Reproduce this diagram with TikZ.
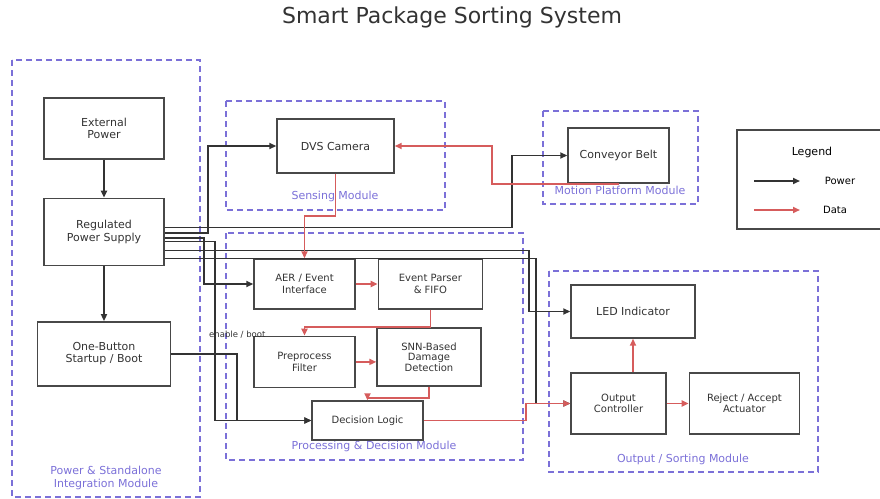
\documentclass[tikz,border=0pt]{standalone}
\usepackage{fontspec}
\setmainfont{DejaVu Sans}
\usetikzlibrary{arrows.meta, positioning}

\definecolor{boxgray}{HTML}{484848}
\definecolor{txtgray}{HTML}{333333}
\definecolor{pwrgray}{HTML}{333333}
\definecolor{datared}{HTML}{D65C5C}
\definecolor{modblue}{HTML}{7B70D8}

\begin{document}
\begin{tikzpicture}[
    x=1pt, y=1pt,
    font=\fontsize{11}{12.5}\selectfont,
    box/.style={rectangle, draw=boxgray, line width=1.4pt, fill=white, text=txtgray,
                align=center, inner sep=2pt},
    small/.style={font=\fontsize{10}{11.5}\selectfont},
    module/.style={draw=modblue, line width=1.3pt, dash pattern=on 6pt off 4pt},
    modlabel/.style={text=modblue, align=center, font=\fontsize{11}{13}\selectfont},
    power/.style={-{Triangle[length=7pt, width=6pt]}, line width=1.8pt, draw=pwrgray},
    data/.style={-{Triangle[length=7pt, width=6pt]}, line width=1.8pt, draw=datared}
]
\useasboundingbox (0,0) rectangle (880,-498);

\node[text=txtgray, font=\fontsize{22}{26}\selectfont] (title) at (452,-17) {Smart Package Sorting System};

% module frames
\draw[module] (12,-60) rectangle (200,-497);
\draw[module] (226,-101) rectangle (445,-210);
\draw[module] (543,-111) rectangle (698,-204);
\draw[module] (226,-233) rectangle (523,-460);
\draw[module] (549,-271) rectangle (818,-472);
\node[modlabel] (powlbl) at (106,-477.5) {Power \& Standalone\\Integration Module};
\node[modlabel] (senlbl) at (335,-196) {Sensing Module};
\node[modlabel] (motlbl) at (620,-190) {Motion Platform Module};
\node[modlabel] (proclbl) at (374,-446) {Processing \& Decision Module};
\node[modlabel] (outlbl) at (683,-459) {Output / Sorting Module};

% power module
\node[box, minimum width=120pt, minimum height=61pt] (ext) at (104,-128.5) {External\\Power};
\node[box, minimum width=120pt, minimum height=67pt, below=38pt of ext] (rps) {Regulated\\Power Supply};
\node[box, minimum width=133pt, minimum height=64pt, below=55pt of rps] (boot) {One-Button\\Startup / Boot};

% sensing and motion
\node[box, minimum width=117pt, minimum height=54pt] (dvs) at (335.5,-146) {DVS Camera};
\node[box, minimum width=101pt, minimum height=55pt] (conv) at (618.5,-155.5) {Conveyor Belt};

% processing
\node[box, small, minimum width=101pt, minimum height=50pt] (aer) at (304.5,-284) {AER / Event\\Interface};
\node[box, small, minimum width=104pt, minimum height=50pt, right=22pt of aer] (parser) {Event Parser\\\& FIFO};
\node[box, small, minimum width=101pt, minimum height=51pt, below=26pt of aer] (pre) {Preprocess\\Filter};
\node[box, font=\fontsize{10}{10.5}\selectfont, minimum width=104pt, minimum height=58pt] (snn) at (429,-357) {SNN-Based\\Damage\\Detection};
\node[box, small, minimum width=111pt, minimum height=39pt] (dec) at (367.5,-420.5) {Decision Logic};

% output
\node[box, minimum width=124pt, minimum height=53pt] (led) at (633,-311.5) {LED Indicator};
\node[box, small, minimum width=95pt, minimum height=61pt] (outc) at (618.5,-403.5) {Output\\Controller};
\node[box, small, minimum width=110pt, minimum height=61pt, right=22pt of outc] (act) {Reject / Accept\\Actuator};

% power lines
\draw[power] (ext) -- (rps);
\draw[power] (rps) -- (boot);
\draw[power] ([yshift=4.5pt]rps.east) -| ([xshift=-55pt]conv.west) -- (conv.west);
\draw[power] ([yshift=-1pt]rps.east) -| ([xshift=-68pt]dvs.west) -- (dvs.west);
\draw[power] ([yshift=-6pt]rps.east) -| ([xshift=-49pt]aer.west) -- (aer.west);
\draw[power] ([yshift=-9.5pt]rps.east) -| ([xshift=-96pt]dec.west) -- (dec.west);
\draw[power] ([yshift=-18.5pt]rps.east) -| ([xshift=-41pt]led.west) -- (led.west);
\draw[power] ([yshift=-26.5pt]rps.east) -| ([xshift=-34pt]outc.west) -- (outc.west);
\draw[power] (boot.east) -| node[pos=0.5, above=11pt, text=txtgray, font=\fontsize{8.5}{10}\selectfont] {enable / boot}
    ([xshift=-74pt]dec.west) -- (dec.west);

% data lines
\draw[data] (conv.south) -| ([xshift=97pt]dvs.east) -- (dvs.east);
\draw[data] (dvs.south) -- ++(0,-42.5) -| (aer.north);
\draw[data] (aer) -- (parser);
\draw[data] (parser.south) -- ++(0,-17) -| (pre.north);
\draw[data] (pre.east) -- (pre.east -| snn.west);
\draw[data] (snn.south) -- ++(0,-11) -| (dec.north);
\draw[data] (dec.east) -| ([xshift=-44pt]outc.west) -- (outc.west);
\draw[data] (led.south |- outc.north) -- (led.south);
\draw[data] (outc) -- (act);

% legend
\draw[draw=boxgray, line width=1.2pt] (737,-130) rectangle (884,-229);
\node[text=black] (legtitle) at (812,-152) {Legend};
\coordinate (pw1) at (754,-181);
\coordinate (pw2) at (800,-181);
\coordinate (dt1) at (754,-210);
\coordinate (dt2) at (800,-210);
\draw[power] (pw1) -- (pw2);
\draw[data] (dt1) -- (dt2);
\node[text=black, font=\fontsize{10}{12}\selectfont] (legpow) at (840,-181) {Power};
\node[text=black, font=\fontsize{10}{12}\selectfont] (legdata) at (835,-210) {Data};

\end{tikzpicture}
\end{document}
